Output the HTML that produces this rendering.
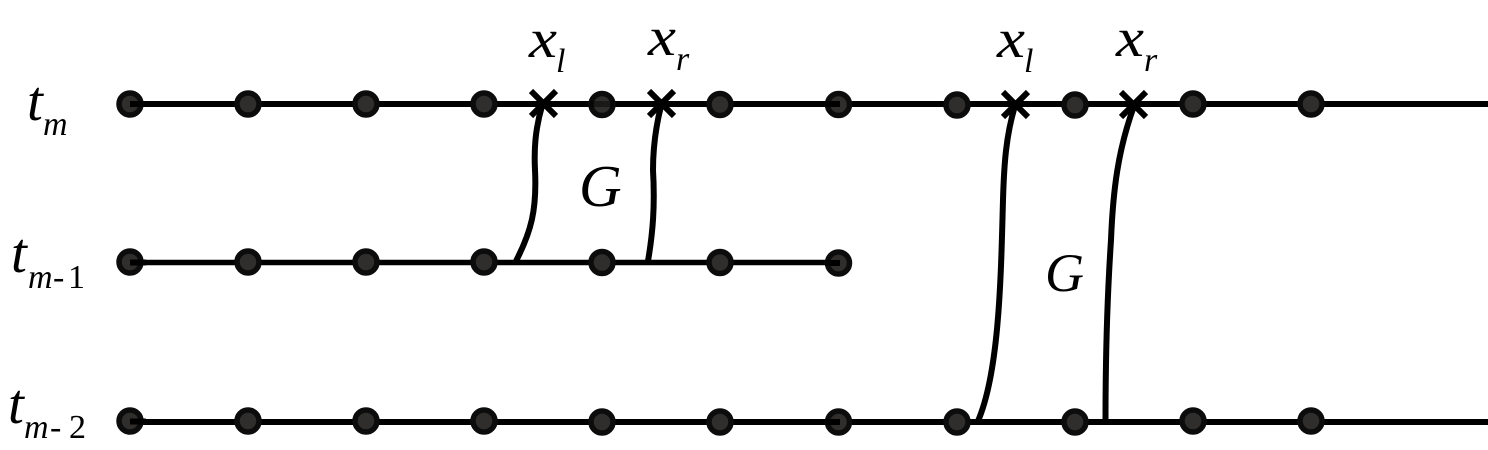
<!DOCTYPE html>
<html>
<head>
<meta charset="utf-8">
<style>
html,body{margin:0;padding:0;background:#fff;width:1488px;height:450px;overflow:hidden}
svg{display:block}
text{font-family:"Liberation Serif",serif;font-style:italic;fill:#000}
.b{font-size:59px}
.t{font-size:57px}
.x{font-size:55px}
.s{font-size:34px}
.n{font-style:normal}
</style>
</head>
<body>
<svg width="1488" height="450" viewBox="0 0 1488 450" xmlns="http://www.w3.org/2000/svg">
<rect width="1488" height="450" fill="#fff"/>
<g fill="none" stroke="#000" stroke-width="6">
<path d="M130 104H1488"/>
<path d="M130 262.500H838" stroke-width="5.500"/>
<path d="M130 422H1488"/>
<path d="M542 106C535 130 534 150 535 170C537 210 531 232 516 261"/>
<path d="M661 106C655 130 653 150 653 170C655 205 653 232 648 261"/>
<path d="M1015 106C1006 135 1004 165 1003 200C1001 270 1000 370 978 421"/>
<path d="M1134 106C1118 150 1113 190 1111 240C1107 300 1105.500 360 1105.500 421"/>
</g>
<g fill="#2f2e2c" stroke="#0c0c0c" stroke-width="5.500">
<circle cx="130" cy="104" r="11"/><circle cx="248" cy="104" r="11"/><circle cx="366" cy="104" r="11"/><circle cx="484" cy="104" r="11"/><circle cx="602" cy="104.500" r="11"/><circle cx="720" cy="104.500" r="11"/><circle cx="838.500" cy="104.500" r="11"/><circle cx="957" cy="105" r="11"/><circle cx="1075" cy="105" r="11"/><circle cx="1193" cy="104" r="11"/><circle cx="1311" cy="104" r="11"/>
<circle cx="130" cy="262" r="11"/><circle cx="248" cy="262" r="11"/><circle cx="366" cy="262" r="11"/><circle cx="484" cy="262" r="11"/><circle cx="602" cy="262.500" r="11"/><circle cx="720" cy="262.500" r="11"/><circle cx="838.500" cy="263" r="11"/>
<circle cx="130" cy="421" r="11"/><circle cx="248" cy="421" r="11"/><circle cx="366" cy="421" r="11"/><circle cx="484" cy="421" r="11"/><circle cx="602" cy="422" r="11"/><circle cx="720" cy="422" r="11"/><circle cx="838.500" cy="422" r="11"/><circle cx="957" cy="422" r="11"/><circle cx="1075" cy="422" r="11"/><circle cx="1193" cy="421" r="11"/><circle cx="1311" cy="421" r="11"/>
</g>
<g fill="none" stroke="#000" stroke-width="6">
<path d="M130 104H146M130 262.500H146M130 421.500H146"/>
<path d="M825 104H840M825 263H840M825 422H840"/>
<path d="M590 104H614" stroke-opacity="0.45"/>
<path d="M531 91L556 116M556 91L531 116M649 91L674 116M674 91L649 116M1003 92L1028 117M1028 92L1003 117M1121 92L1146 117M1146 92L1121 117"/>
</g>
<text class="t" x="27" y="120">t</text><text class="s" x="43" y="135">m</text>
<text class="t" x="11" y="272">t</text><text class="s" x="28" y="288">m</text><text class="s n" x="53" y="288">-</text><text class="s n" x="68" y="288">1</text>
<text class="t" x="8" y="423">t</text><text class="s" x="24" y="438">m</text><text class="s n" x="50" y="438">-</text><text class="s n" x="69" y="438">2</text>
<text class="x" x="529" y="57" textLength="28" lengthAdjust="spacingAndGlyphs">x</text><text class="s" x="556" y="72">l</text>
<text class="x" x="648" y="55" textLength="28" lengthAdjust="spacingAndGlyphs">x</text><text class="s" x="676" y="70">r</text>
<text class="x" x="997" y="57" textLength="28" lengthAdjust="spacingAndGlyphs">x</text><text class="s" x="1024" y="72">l</text>
<text class="x" x="1116" y="56" textLength="28" lengthAdjust="spacingAndGlyphs">x</text><text class="s" x="1144" y="71">r</text>
<text class="b" x="579" y="206">G</text>
<text style="font-size:54px" x="1045" y="291">G</text>
</svg>
</body>
</html>
